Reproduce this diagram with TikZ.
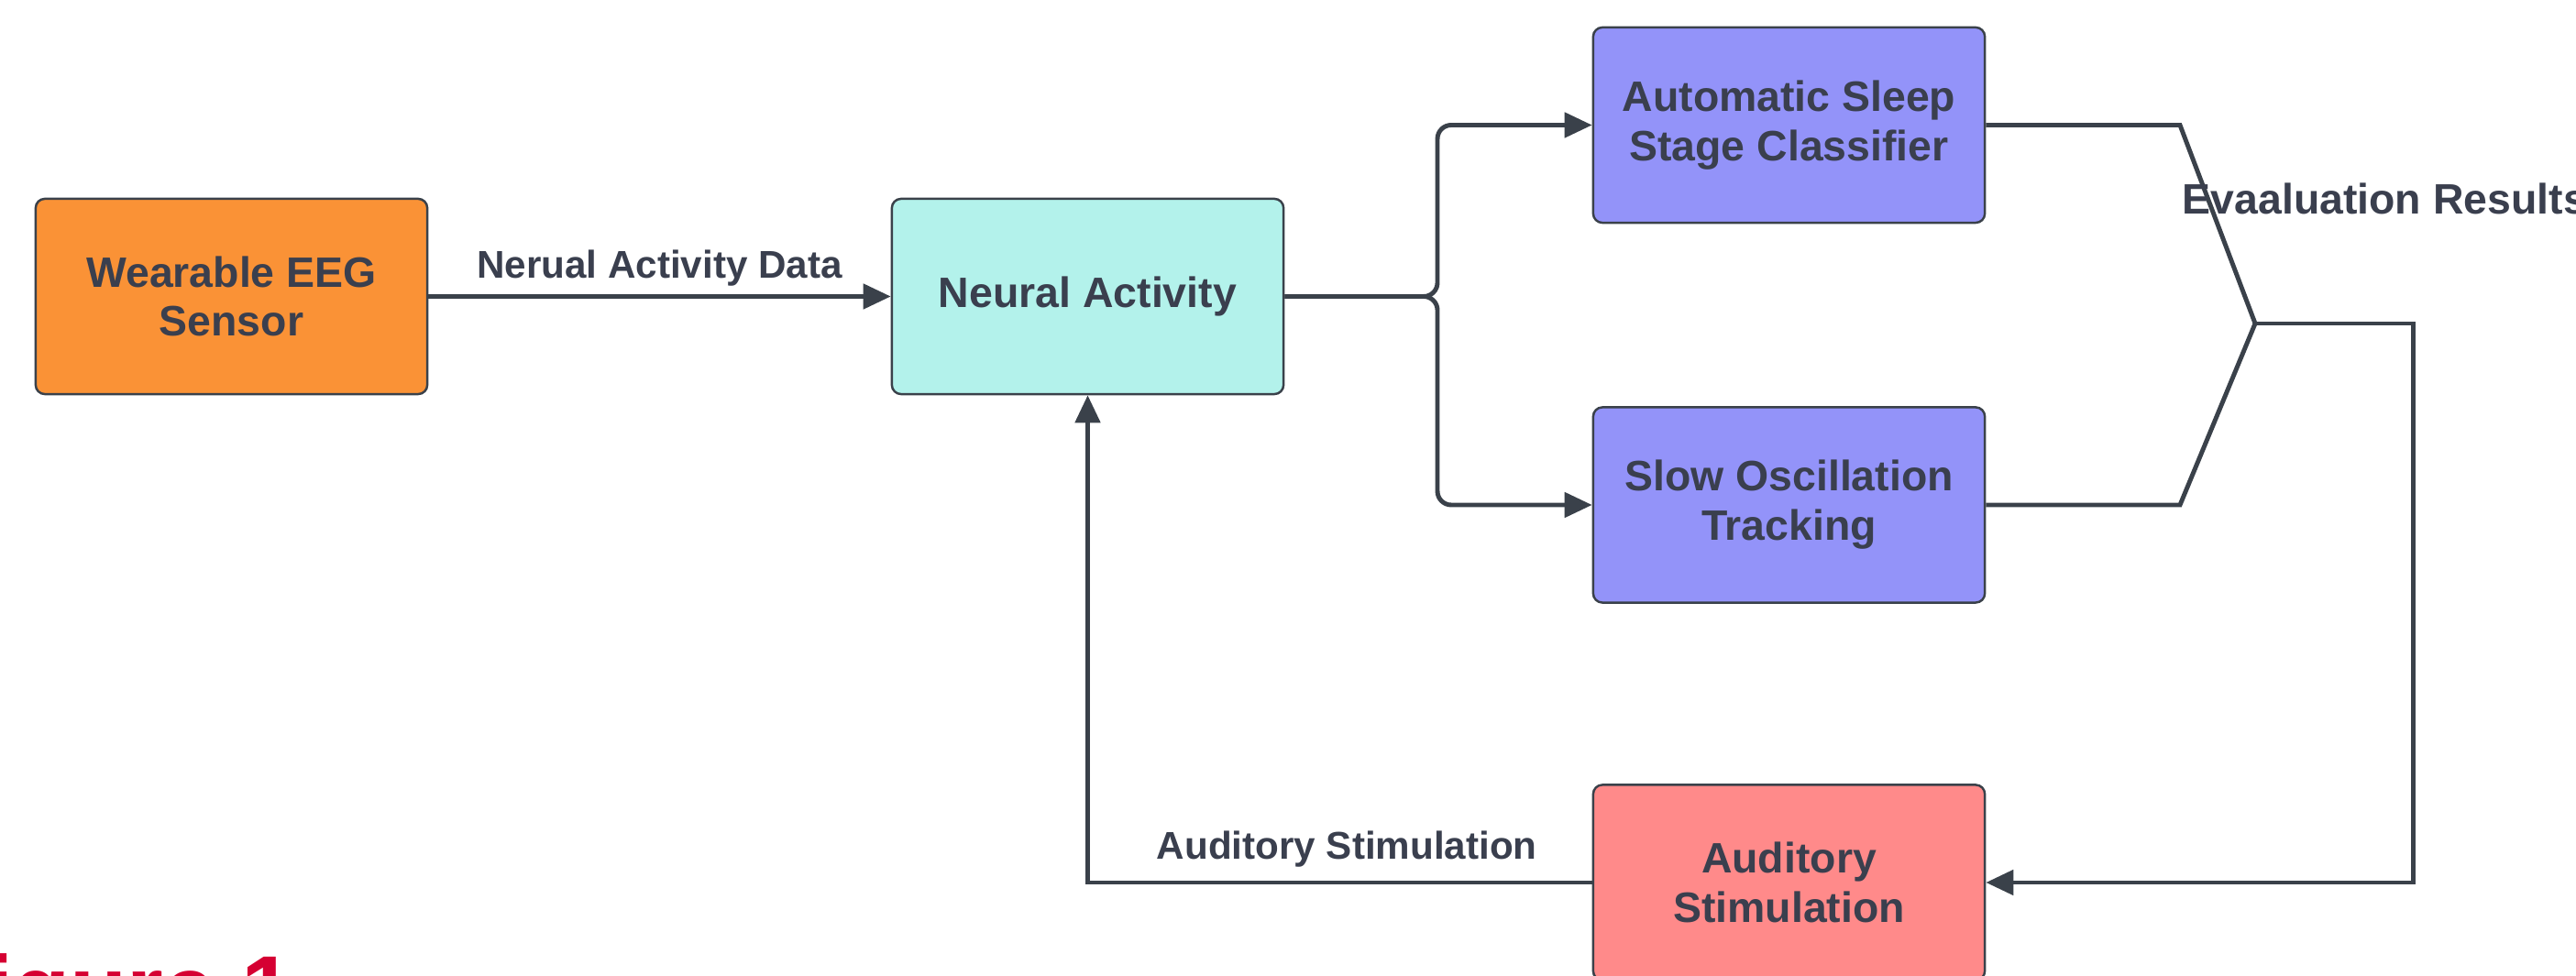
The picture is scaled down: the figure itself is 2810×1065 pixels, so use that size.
\documentclass[tikz,border=0pt]{standalone}
\usepackage{fontspec}
\setmainfont{Liberation Sans}
\usetikzlibrary{arrows.meta}
\definecolor{ln}{HTML}{3A414A}
\definecolor{txt}{HTML}{3A3F4E}
\definecolor{orng}{HTML}{FA9236}
\definecolor{tealc}{HTML}{B3F2EB}
\definecolor{purp}{HTML}{9393F9}
\definecolor{pinkc}{HTML}{FF8A8A}
\definecolor{figred}{HTML}{D50032}
\begin{document}
\begin{tikzpicture}[x=0.01cm,y=-0.01cm,
  box/.style={draw=ln, line width=0.7pt, rounded corners=0.1cm, minimum width=4.27cm, minimum height=2.13cm, align=center, font=\fontsize{13.2}{15.3}\selectfont\bfseries, text=txt, inner sep=0pt},
  wire/.style={draw=ln, line width=1.4pt},
  conn/.style={wire, -{Triangle[length=0.3cm,width=0.27cm]}},
  lbl/.style={font=\fontsize{12}{14}\selectfont\bfseries, text=txt, inner sep=0pt}]
\path[use as bounding box] (0,0) rectangle (2810,1065);
\clip (0,0) rectangle (2810,1065);
\node[box, fill=orng] (eeg) at (252.5,323.5) {Wearable EEG\\Sensor};
\node[box, fill=tealc] (na) at (1186.5,323.5) {Neural Activity};
\node[box, fill=purp] (assc) at (1951.5,136.5) {Automatic Sleep\\Stage Classifier};
\node[box, fill=purp] (sot) at (1951.5,551) {Slow Oscillation\\Tracking};
\node[box, fill=pinkc] (aud) at (1951.5,963) {Auditory\\Stimulation};
\coordinate (br) at (1568,323.5);
\coordinate (m1) at (2378,136.5);
\coordinate (m2) at (2378,551);
\coordinate (mj) at (2460,353);
\coordinate (rt) at (2632,353);
\draw[conn] (eeg.east) -- node[lbl, midway, yshift=0.31cm] (l1) {Nerual Activity Data} (na.west);
\draw[conn, rounded corners=0.15cm] (na.east) -- (br) |- (assc.west);
\draw[conn, rounded corners=0.15cm] (na.east) -- (br) |- (sot.west);
\draw[wire] (assc.east) -- (m1) -- (mj);
\draw[wire] (sot.east) -- (m2) -- (mj);
\draw[conn] (mj) -- (rt) |- (aud.east);
\draw[conn] (aud.west) -| node[lbl, pos=0.243, yshift=0.36cm] (l2) {Auditory Stimulation} (na.south);
\node[lbl, anchor=west, font=\fontsize{13.2}{15}\selectfont\bfseries] (l3) at (2380,217) {Evaaluation Results};
\node[anchor=base west, inner sep=0pt, text=figred, font=\fontsize{29}{34}\selectfont\bfseries] (fig) at (-77,1114) {Figure 1};
\end{tikzpicture}
\end{document}
